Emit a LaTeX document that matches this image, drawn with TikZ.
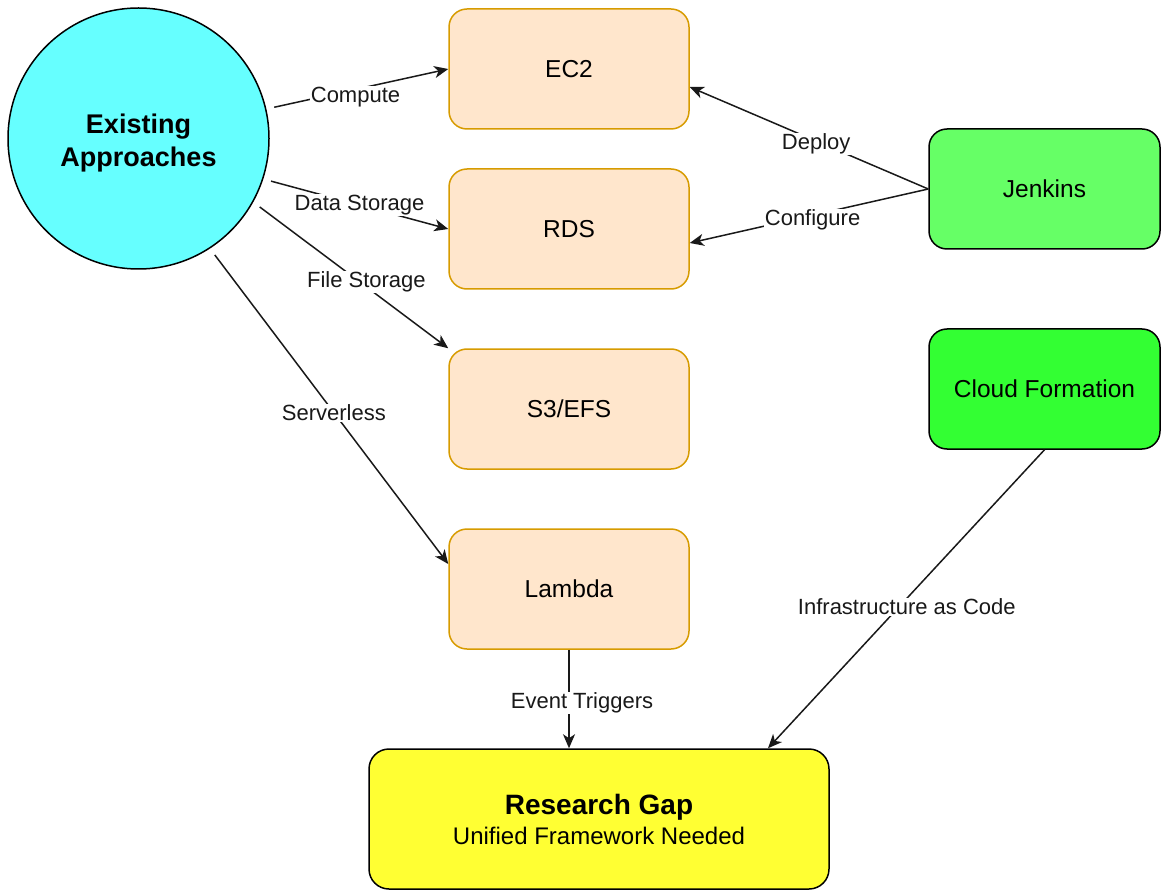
\documentclass[tikz,border=0pt]{standalone}
\usepackage{fontspec}
\setmainfont{Liberation Sans}
\usetikzlibrary{arrows.meta,calc}
\definecolor{boxfill}{HTML}{FFE6CC}
\definecolor{boxline}{HTML}{D79B00}
\definecolor{cyanfill}{HTML}{66FFFF}
\definecolor{jenkfill}{HTML}{66FF66}
\definecolor{cffill}{HTML}{33FF33}
\definecolor{gapfill}{HTML}{FFFF33}
\begin{document}
\begin{tikzpicture}[x=1pt,y=-1pt,
  circ/.style={circle,draw=black,fill=cyanfill,line width=1.5pt,minimum size=261pt,inner sep=0pt},
  circtext/.style={align=center,inner sep=0pt,font=\fontsize{27}{33}\selectfont\bfseries},
  svc/.style={rectangle,rounded corners=18pt,draw=boxline,fill=boxfill,line width=1.5pt,
    minimum width=240pt,minimum height=120pt,font=\fontsize{24.5}{29}\selectfont},
  tool/.style={rectangle,rounded corners=18pt,draw=black,line width=1.5pt,
    minimum width=231pt,minimum height=120pt,font=\fontsize{24.5}{29}\selectfont},
  gapbox/.style={rectangle,rounded corners=20pt,draw=black,fill=gapfill,line width=1.5pt,
    minimum width=460pt,minimum height=140pt,align=center,font=\fontsize{24}{29}\selectfont},
  arr/.style={-{Stealth[length=14pt,width=12pt,inset=4pt]},line width=1.5pt,draw=black!90},
  lbl/.style={fill=white,inner sep=1pt,font=\fontsize{22}{26}\selectfont,text=black!90}
]
\useasboundingbox (0,0) rectangle (1161,890);
\node[circ,label={[circtext,yshift=-5pt]center:Existing\\Approaches}] (ea) at (138.5,138.5) {};
\node[svc] (ec2) at (569,69) {EC2};
\node[svc] (rds) at (569,229) {RDS};
\node[svc] (s3) at (569,409) {S3/EFS};
\node[svc] (lam) at (569,589) {Lambda};
\node[tool,fill=jenkfill] (jen) at (1044.5,189) {Jenkins};
\node[tool,fill=cffill] (cf) at (1044.5,389) {Cloud Formation};
\node[gapbox] (rg) at (599,819) {{\fontsize{28}{32}\selectfont\bfseries Research Gap}\\[1pt]Unified Framework Needed};

\draw[arr,shorten <=8pt] (ea.13) -- node[lbl,pos=.49,yshift=-8pt]{Compute} (ec2.west);
\draw[arr,shorten <=8pt] (ea.-18) -- node[lbl,pos=.52]{Data Storage} (rds.west);
\draw[arr,shorten <=8pt] (ea.-29.4) -- node[lbl,pos=.58,yshift=5pt]{File Storage} (s3.north west);
\draw[arr,shorten <=8pt] (ea.-57.4) -- node[lbl,pos=.52]{Serverless} ([yshift=25pt]lam.west);
\draw[arr] (jen.west) -- node[lbl,pos=.47,yshift=-3pt]{Deploy} ([yshift=-18pt]ec2.east);
\draw[arr] (jen.west) -- node[lbl,pos=.485,yshift=-5pt]{Configure} ([yshift=-14pt]rds.east);
\draw[arr] (lam.south) -- node[lbl,pos=.54,xshift=13pt]{Event Triggers} (lam.south |- rg.north);
\draw[arr] (cf.south) -- node[lbl,pos=.527,xshift=8pt]{Infrastructure as Code} ([xshift=169pt]rg.north);
\end{tikzpicture}
\end{document}
